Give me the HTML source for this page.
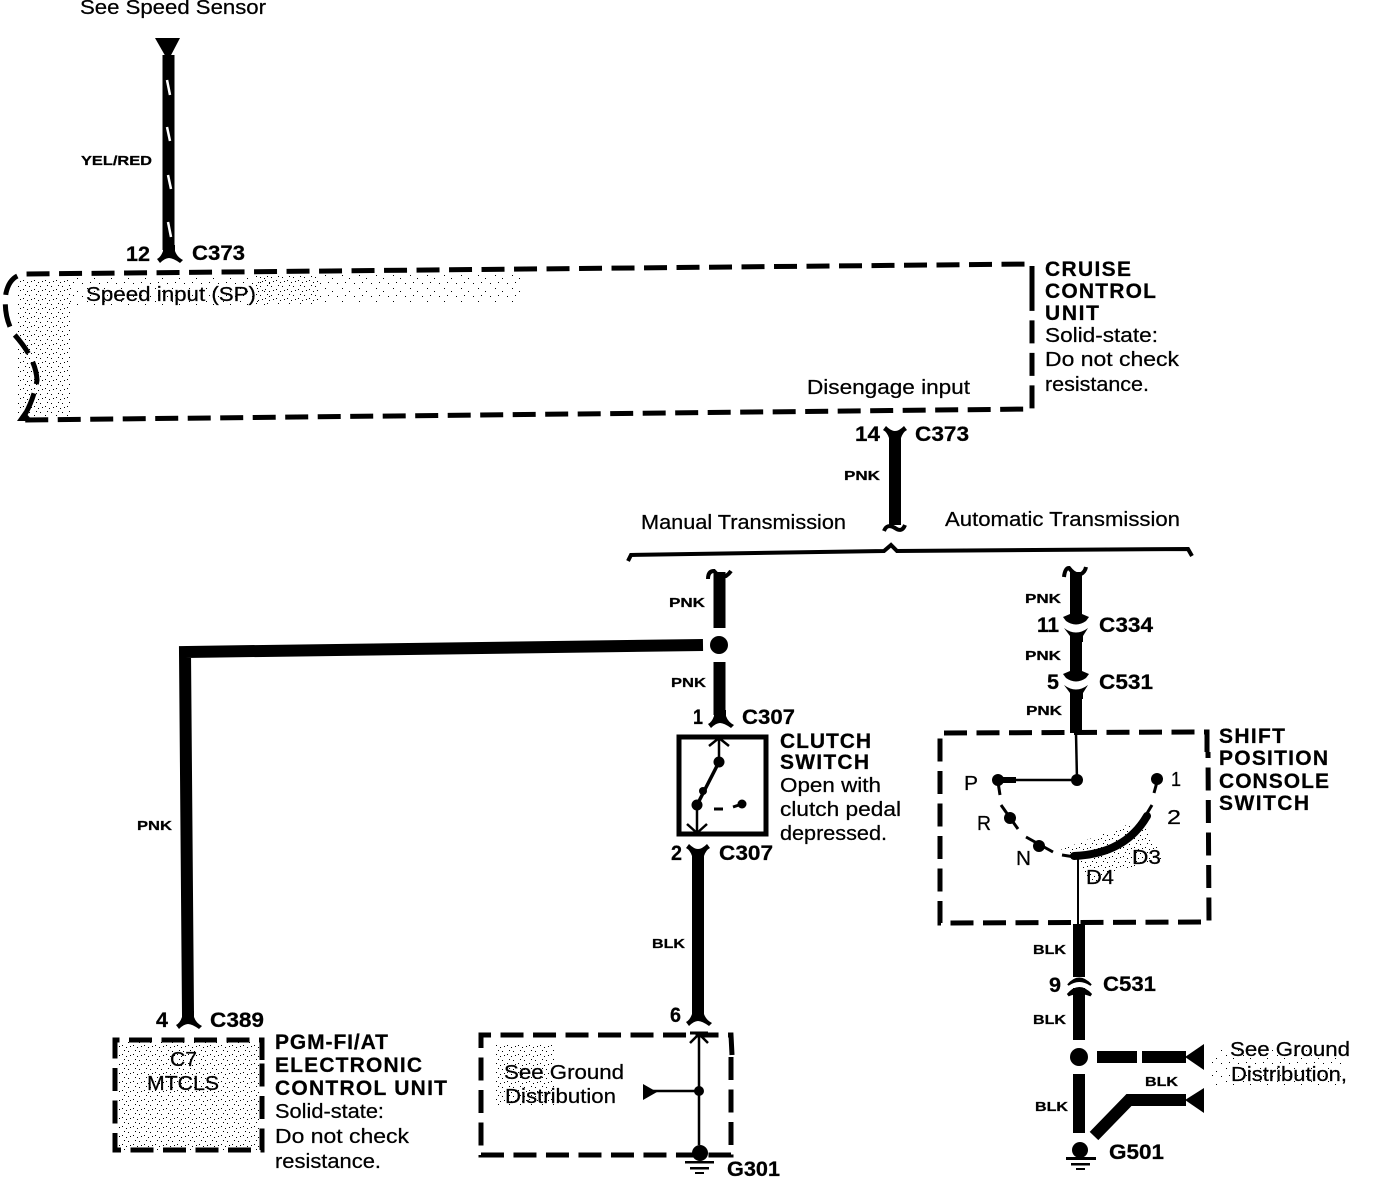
<!DOCTYPE html>
<html><head><meta charset="utf-8"><style>
html,body{margin:0;padding:0;background:#fff}
svg{display:block}
text{font-family:"Liberation Sans",sans-serif;fill:#000;stroke:#000;stroke-width:.25}
.r{font-size:20px}
.b{font-size:21px;font-weight:bold}
.s{font-size:13px;font-weight:bold}
.w{fill:none;stroke:#000;stroke-width:12}
.d{fill:none;stroke:#000;stroke-width:5;stroke-dasharray:23 9.5}
.t{fill:none;stroke:#000;stroke-width:2.5}
</style></head><body>
<svg width="1376" height="1178" viewBox="0 0 1376 1178" xmlns="http://www.w3.org/2000/svg">
<defs>
<pattern id="st" width="11" height="9" patternUnits="userSpaceOnUse"><rect x="1" y="1" width="1" height="1"/><rect x="5" y="3" width="1" height="1"/><rect x="9" y="2" width="1" height="1"/><rect x="3" y="6" width="1" height="1"/><rect x="7" y="7" width="1" height="1"/></pattern>
<pattern id="sl" width="17" height="13" patternUnits="userSpaceOnUse"><rect x="2" y="2" width="1" height="1"/><rect x="9" y="5" width="1" height="1"/><rect x="14" y="10" width="1" height="1"/><rect x="5" y="9" width="1" height="1"/></pattern>
<path id="fd" d="M-6,-10 L-6,-4 Q-8,2 -12,4 L-9,8 Q-4,3 0,3 Q4,3 11,8 L14,5 Q8,2 6,-4 L6,-10Z"/>
<path id="fu" d="M-6,10 L-6,4 Q-8,-2 -12,-4 L-9,-8 Q-4,-3 0,-3 Q4,-3 9,-8 L12,-4 Q8,-2 6,4 L6,10Z"/>
</defs>

<!-- stipple -->
<rect x="18" y="278" width="52" height="138" fill="url(#st)"/>
<rect x="70" y="278" width="200" height="28" fill="url(#sl)"/>
<rect x="255" y="274" width="65" height="30" fill="url(#st)"/>
<rect x="320" y="274" width="200" height="28" fill="url(#sl)"/>
<rect x="118" y="1042" width="142" height="108" fill="url(#st)"/>
<rect x="495" y="1045" width="60" height="60" fill="url(#st)"/>
<rect x="1212" y="1050" width="130" height="36" fill="url(#sl)"/>
<path d="M1060,850 L1140,820 L1165,860 L1120,870 L1090,885 L1080,860Z" fill="url(#st)"/>

<!-- top wire -->
<polygon points="155,38 180,38 169,59 167,59"/>
<line x1="168.500" y1="55" x2="168.500" y2="250" class="w"/>
<g stroke="#fff" stroke-width="2.500"><line x1="167" y1="80" x2="170" y2="95"/><line x1="167" y1="127" x2="170" y2="141"/><line x1="168" y1="175" x2="171" y2="189"/><line x1="168" y1="222" x2="171" y2="237"/></g>
<use href="#fd" x="169" y="255"/>
<text x="80" y="14" class="r" textLength="186" lengthAdjust="spacingAndGlyphs">See Speed Sensor</text>
<text x="81" y="165" class="s" textLength="71" lengthAdjust="spacingAndGlyphs">YEL/RED</text>
<text x="126" y="261" class="b" textLength="24" lengthAdjust="spacingAndGlyphs">12</text>
<text x="192" y="260" class="b" textLength="53" lengthAdjust="spacingAndGlyphs">C373</text>

<!-- cruise box -->
<path class="d" d="M1032,289 L1032,264 L25,274 Q10,275 6,293 Q3,315 13,333 Q36,358 37,380 Q34,400 22,420 L1032,409 L1032,385 L1032,289"/>
<polygon points="17,421 24,411 33,421"/>
<text x="86" y="301" class="r" textLength="170" lengthAdjust="spacingAndGlyphs">Speed input (SP)</text>
<text x="807" y="394" class="r" textLength="163" lengthAdjust="spacingAndGlyphs">Disengage input</text>
<text x="1045" y="276" class="b" textLength="86" lengthAdjust="spacing">CRUISE</text>
<text x="1045" y="298" class="b" textLength="111" lengthAdjust="spacing">CONTROL</text>
<text x="1045" y="320" class="b" textLength="54" lengthAdjust="spacing">UNIT</text>
<text x="1045" y="342" class="r" textLength="113" lengthAdjust="spacingAndGlyphs">Solid-state:</text>
<text x="1045" y="366" class="r" textLength="134" lengthAdjust="spacingAndGlyphs">Do not check</text>
<text x="1045" y="391" class="r" textLength="104" lengthAdjust="spacingAndGlyphs">resistance.</text>

<!-- middle wire -->
<line x1="895" y1="436" x2="895" y2="525" class="w"/>
<use href="#fu" x="895" y="434"/>
<path d="M884,531 Q887,523 895,528 Q902,533 905,525" fill="none" stroke="#000" stroke-width="4"/>
<text x="855" y="441" class="b" textLength="25" lengthAdjust="spacingAndGlyphs">14</text>
<text x="915" y="441" class="b" textLength="54" lengthAdjust="spacingAndGlyphs">C373</text>
<text x="844" y="480" class="s" textLength="36" lengthAdjust="spacingAndGlyphs">PNK</text>
<text x="641" y="529" class="r" textLength="205" lengthAdjust="spacingAndGlyphs">Manual Transmission</text>
<text x="945" y="526" class="r" textLength="235" lengthAdjust="spacingAndGlyphs">Automatic Transmission</text>
<path d="M628,561 L631,555 L884,551 L891,545 L897,551 L1188,549 L1192,556" fill="none" stroke="#000" stroke-width="4"/>

<!-- manual branch -->
<line x1="719.500" y1="572" x2="719.500" y2="628" class="w"/>
<path d="M708,579 Q708,571 714,571 Q720,578 726,576 Q729,574 731,571" fill="none" stroke="#000" stroke-width="4"/>
<text x="669" y="607" class="s" textLength="36" lengthAdjust="spacingAndGlyphs">PNK</text>
<circle cx="719" cy="645" r="9"/>
<polyline points="703,645 185,652 188,1015" class="w"/>
<line x1="719.500" y1="662" x2="719.500" y2="715" class="w"/>
<use href="#fd" x="720" y="720"/>
<text x="671" y="687" class="s" textLength="35" lengthAdjust="spacingAndGlyphs">PNK</text>
<text x="693" y="724" class="b" textLength="10" lengthAdjust="spacingAndGlyphs">1</text>
<text x="742" y="724" class="b" textLength="53" lengthAdjust="spacingAndGlyphs">C307</text>

<!-- clutch switch -->
<rect x="679" y="737" width="87" height="97" fill="none" stroke="#000" stroke-width="5"/>
<line x1="719" y1="738" x2="719" y2="762" class="t"/>
<path d="M709,746 L719,738 L729,746" class="t"/>
<circle cx="719" cy="762" r="5.500"/>
<line x1="719" y1="762" x2="697" y2="805" stroke="#000" stroke-width="3.500"/>
<circle cx="703" cy="791" r="4"/>
<circle cx="697" cy="805" r="5.500"/>
<line x1="697" y1="805" x2="697" y2="832" class="t"/>
<path d="M687,824 L697,833 L707,824" class="t"/>
<line x1="714" y1="809" x2="723" y2="809" stroke="#000" stroke-width="3"/>
<line x1="733" y1="807" x2="742" y2="804" stroke="#000" stroke-width="3"/>
<circle cx="742" cy="804" r="4.500"/>
<text x="780" y="748" class="b" textLength="91" lengthAdjust="spacing">CLUTCH</text>
<text x="780" y="769" class="b" textLength="89" lengthAdjust="spacing">SWITCH</text>
<text x="780" y="792" class="r" textLength="101" lengthAdjust="spacingAndGlyphs">Open with</text>
<text x="780" y="816" class="r" textLength="121" lengthAdjust="spacingAndGlyphs">clutch pedal</text>
<text x="780" y="840" class="r" textLength="107" lengthAdjust="spacingAndGlyphs">depressed.</text>

<!-- C307 down -->
<text x="671" y="860" class="b" textLength="11" lengthAdjust="spacingAndGlyphs">2</text>
<text x="719" y="860" class="b" textLength="54" lengthAdjust="spacingAndGlyphs">C307</text>
<line x1="698" y1="858" x2="698" y2="1012" class="w"/>
<use href="#fu" x="698" y="852"/>
<text x="652" y="948" class="s" textLength="33" lengthAdjust="spacingAndGlyphs">BLK</text>
<text x="670" y="1022" class="b" textLength="11" lengthAdjust="spacingAndGlyphs">6</text>
<use href="#fd" x="698" y="1018"/>

<!-- ground box -->
<path class="d" d="M732,1055 L731,1035 L481,1035 L481,1155 L731,1155 L731,1055"/>
<line x1="699" y1="1034" x2="699" y2="1145" class="t"/>
<line x1="690" y1="1033" x2="708" y2="1033" stroke="#000" stroke-width="3"/>
<path d="M690,1043 L699,1034 L708,1043" class="t"/>
<polygon points="643,1084 657,1092 643,1100"/>
<line x1="650" y1="1091" x2="699" y2="1091" class="t"/>
<circle cx="699" cy="1091" r="5"/>
<circle cx="700" cy="1153" r="8"/>
<rect x="685" y="1161" width="29" height="2.500"/><rect x="690" y="1167" width="19" height="2.500"/><rect x="695" y="1172" width="9" height="2"/>
<text x="504" y="1079" class="r" textLength="120" lengthAdjust="spacingAndGlyphs">See Ground</text>
<text x="505" y="1103" class="r" textLength="111" lengthAdjust="spacingAndGlyphs">Distribution</text>
<text x="727" y="1176" class="b" textLength="53" lengthAdjust="spacingAndGlyphs">G301</text>

<!-- PGM -->
<use href="#fd" x="188" y="1021"/>
<text x="156" y="1027" class="b" textLength="12" lengthAdjust="spacingAndGlyphs">4</text>
<text x="210" y="1027" class="b" textLength="54" lengthAdjust="spacingAndGlyphs">C389</text>
<text x="137" y="830" class="s" textLength="35" lengthAdjust="spacingAndGlyphs">PNK</text>
<path class="d" d="M262,1060 L262,1040 L115,1040 L115,1150 L262,1150 L262,1060"/>
<text x="170" y="1066" class="r" textLength="27" lengthAdjust="spacingAndGlyphs">C7</text>
<text x="147" y="1090" class="r" textLength="72" lengthAdjust="spacingAndGlyphs">MTCLS</text>
<text x="275" y="1049" class="b" textLength="113" lengthAdjust="spacing">PGM-FI/AT</text>
<text x="275" y="1072" class="b" textLength="147" lengthAdjust="spacing">ELECTRONIC</text>
<text x="275" y="1095" class="b" textLength="172" lengthAdjust="spacing">CONTROL UNIT</text>
<text x="275" y="1118" class="r" textLength="109" lengthAdjust="spacingAndGlyphs">Solid-state:</text>
<text x="275" y="1143" class="r" textLength="134" lengthAdjust="spacingAndGlyphs">Do not check</text>
<text x="275" y="1168" class="r" textLength="106" lengthAdjust="spacingAndGlyphs">resistance.</text>

<!-- automatic branch -->
<line x1="1076" y1="572" x2="1076" y2="616" class="w"/>
<path d="M1064,577 Q1065,568 1069,568 Q1075,576 1081,574 Q1085,572 1086,567" fill="none" stroke="#000" stroke-width="4"/>
<path d="M1063,617 L1070,614 L1082,614 L1089,617 L1086,621 Q1076,628 1066,621Z"/>
<path d="M1064,628 Q1076,637 1088,628 L1083,636 L1083,642 L1070,642 L1070,636Z"/>
<line x1="1076" y1="640" x2="1076" y2="673" class="w"/>
<path d="M1063,674 L1070,671 L1082,671 L1089,674 L1086,678 Q1076,685 1066,678Z"/>
<path d="M1064,685 Q1076,694 1088,685 L1083,693 L1083,699 L1070,699 L1070,693Z"/>
<line x1="1076" y1="697" x2="1076" y2="733" class="w"/>
<text x="1025" y="603" class="s" textLength="36" lengthAdjust="spacingAndGlyphs">PNK</text>
<text x="1025" y="660" class="s" textLength="36" lengthAdjust="spacingAndGlyphs">PNK</text>
<text x="1026" y="715" class="s" textLength="36" lengthAdjust="spacingAndGlyphs">PNK</text>
<text x="1037" y="632" class="b" textLength="22" lengthAdjust="spacing">11</text>
<text x="1047" y="689" class="b" textLength="12" lengthAdjust="spacingAndGlyphs">5</text>
<text x="1099" y="632" class="b" textLength="54" lengthAdjust="spacingAndGlyphs">C334</text>
<text x="1099" y="689" class="b" textLength="54" lengthAdjust="spacingAndGlyphs">C531</text>

<!-- shift box -->
<path class="d" d="M1207,752 L1207,732 L940,733 L940,923 L1209,922 L1208,752"/>
<line x1="1076" y1="733" x2="1077" y2="780" class="t"/>
<circle cx="1077" cy="780" r="6"/>
<line x1="1000" y1="780" x2="1077" y2="780" class="t"/>
<circle cx="998" cy="780" r="6"/>
<rect x="1000" y="777" width="16" height="6"/>
<line x1="998" y1="782" x2="1000" y2="795" stroke="#000" stroke-width="3"/>
<line x1="1001" y1="805" x2="1018" y2="829" stroke="#000" stroke-width="3"/>
<circle cx="1010" cy="818" r="6"/>
<line x1="1026" y1="837" x2="1053" y2="852" stroke="#000" stroke-width="3"/>
<circle cx="1039" cy="846" r="6"/>
<line x1="1062" y1="855" x2="1075" y2="857" stroke="#000" stroke-width="3"/>
<path d="M1074,856 Q1125,854 1147,816" fill="none" stroke="#000" stroke-width="8" stroke-linecap="round"/>
<line x1="1146" y1="815" x2="1152" y2="805" stroke="#000" stroke-width="3"/>
<circle cx="1157" cy="779" r="6"/>
<line x1="1157" y1="782" x2="1154" y2="793" stroke="#000" stroke-width="3"/>
<line x1="1078" y1="856" x2="1078" y2="925" stroke="#000" stroke-width="2"/>
<text x="964" y="790" class="r" textLength="14" lengthAdjust="spacingAndGlyphs">P</text>
<text x="977" y="830" class="r" textLength="14" lengthAdjust="spacingAndGlyphs">R</text>
<text x="1016" y="865" class="r" textLength="15" lengthAdjust="spacingAndGlyphs">N</text>
<text x="1086" y="884" class="r" textLength="28" lengthAdjust="spacingAndGlyphs">D4</text>
<text x="1132" y="864" class="r" textLength="29" lengthAdjust="spacingAndGlyphs">D3</text>
<text x="1167" y="824" class="r" textLength="14" lengthAdjust="spacingAndGlyphs">2</text>
<text x="1171" y="786" class="r" textLength="10" lengthAdjust="spacingAndGlyphs">1</text>
<text x="1219" y="743" class="b" textLength="66" lengthAdjust="spacing">SHIFT</text>
<text x="1219" y="765" class="b" textLength="109" lengthAdjust="spacing">POSITION</text>
<text x="1219" y="788" class="b" textLength="110" lengthAdjust="spacing">CONSOLE</text>
<text x="1219" y="810" class="b" textLength="90" lengthAdjust="spacing">SWITCH</text>

<!-- lower right -->
<line x1="1079" y1="924" x2="1079" y2="977" class="w"/>
<path d="M1068,985 Q1079,972 1091,985 Q1079,977 1068,985Z" stroke="#000" stroke-width="2"/>
<path d="M1068,995 Q1079,982 1091,995 Q1079,990 1068,995Z" stroke="#000" stroke-width="3"/>
<line x1="1079" y1="988" x2="1079" y2="1040" class="w"/>
<circle cx="1079" cy="1057" r="9"/>
<line x1="1079" y1="1074" x2="1079" y2="1133" class="w"/>
<line x1="1097" y1="1057" x2="1137" y2="1057" stroke="#000" stroke-width="12"/>
<line x1="1142" y1="1057" x2="1186" y2="1057" stroke="#000" stroke-width="12"/>
<polygon points="1185,1057 1204,1044 1204,1070"/>
<polyline points="1094,1136 1129,1100 1186,1100" class="w"/>
<polygon points="1185,1100 1204,1088 1204,1113"/>
<circle cx="1080" cy="1150" r="8"/>
<rect x="1066" y="1157" width="30" height="3"/><rect x="1071" y="1163" width="19" height="2.500"/><rect x="1076" y="1168" width="9" height="2"/>
<text x="1033" y="954" class="s" textLength="33" lengthAdjust="spacingAndGlyphs">BLK</text>
<text x="1033" y="1024" class="s" textLength="33" lengthAdjust="spacingAndGlyphs">BLK</text>
<text x="1035" y="1111" class="s" textLength="33" lengthAdjust="spacingAndGlyphs">BLK</text>
<text x="1145" y="1086" class="s" textLength="33" lengthAdjust="spacingAndGlyphs">BLK</text>
<text x="1049" y="992" class="b" textLength="12" lengthAdjust="spacingAndGlyphs">9</text>
<text x="1103" y="991" class="b" textLength="53" lengthAdjust="spacingAndGlyphs">C531</text>
<text x="1230" y="1056" class="r" textLength="120" lengthAdjust="spacingAndGlyphs">See Ground</text>
<text x="1231" y="1081" class="r" textLength="116" lengthAdjust="spacingAndGlyphs">Distribution,</text>
<text x="1109" y="1159" class="b" textLength="55" lengthAdjust="spacingAndGlyphs">G501</text>
</svg>
</body></html>
